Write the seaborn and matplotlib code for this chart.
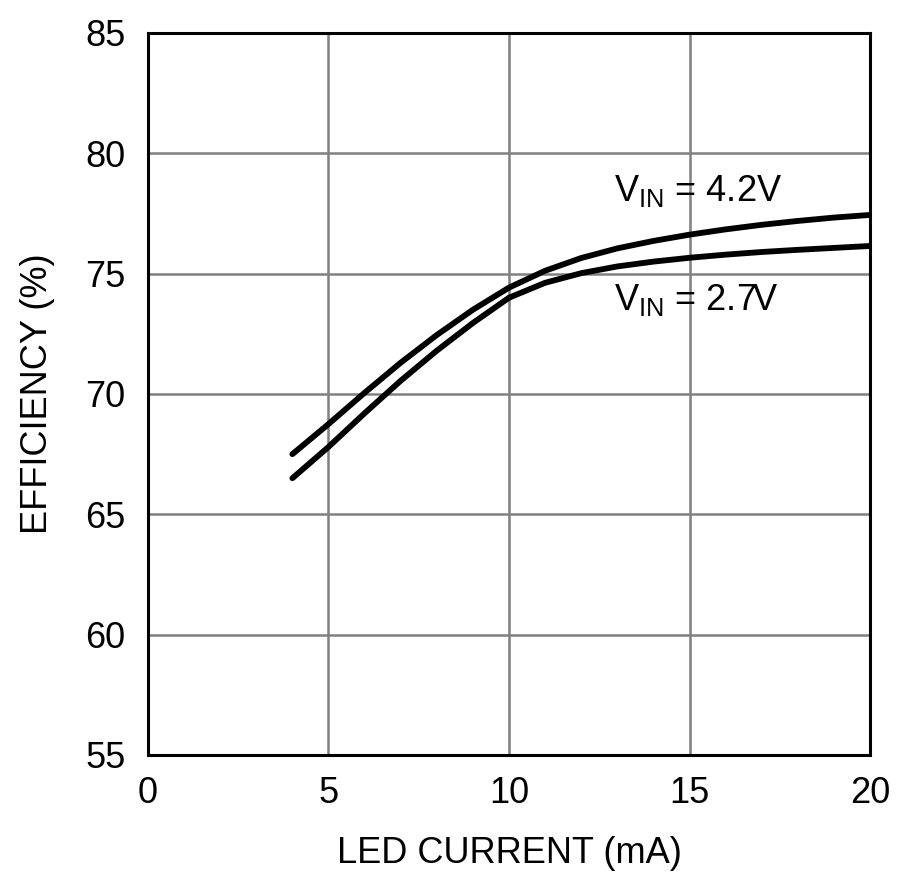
import numpy as np
import pandas as pd
import matplotlib
matplotlib.use("Agg")
import matplotlib.pyplot as plt
import seaborn as sns

# values
led_current = [4, 5, 6, 7, 8, 9, 10, 11, 12, 13, 14, 15, 16, 17, 18, 19, 20]
eff_42 = [67.5, 68.75, 70.05, 71.3, 72.45, 73.5, 74.42, 75.12, 75.65, 76.05,
          76.36, 76.62, 76.84, 77.03, 77.19, 77.33, 77.44]
eff_27 = [66.5, 67.8, 69.2, 70.55, 71.8, 72.95, 74.0, 74.62, 75.02, 75.3,
          75.5, 75.66, 75.79, 75.9, 75.99, 76.07, 76.15]
x_ticks = [0, 5, 10, 15, 20]
y_ticks = [55, 60, 65, 70, 75, 80, 85]

df = pd.DataFrame({
    "current": led_current * 2,
    "eff": eff_42 + eff_27,
    "vin": ["4.2V"] * len(eff_42) + ["2.7V"] * len(eff_27),
})

sns.set_style("white")
plt.rcParams["font.family"] = ["Liberation Sans", "DejaVu Sans"]
plt.rcParams["text.color"] = "black"
plt.rcParams["axes.labelcolor"] = "black"
plt.rcParams["xtick.color"] = "black"
plt.rcParams["ytick.color"] = "black"

fig = plt.figure(figsize=(9, 8.82), dpi=100)
ax = fig.add_axes([0.1644, 0.144, 0.8023, 0.8186])

sns.lineplot(data=df, x="current", y="eff", hue="vin", palette=["black", "black"],
             linewidth=4.2, legend=False, ax=ax)

ax.set_xlim(0, 20)
ax.set_ylim(55, 85)
ax.set_xticks(x_ticks)
ax.set_yticks(y_ticks)
ax.grid(True, color="#808080", linewidth=1.8)
ax.set_axisbelow(True)
for s in ax.spines.values():
    s.set_visible(True)
    s.set_color("black")
    s.set_linewidth(2.2)
ax.tick_params(axis="both", length=0, labelsize=26)
ax.tick_params(axis="x", pad=15)
ax.tick_params(axis="y", pad=16)

ax.set_xlabel("LED CURRENT (mA)", fontsize=26, labelpad=18)
ax.set_ylabel("EFFICIENCY (%)", fontsize=26, labelpad=22)

ax.text(12.9, 78.45, r"V$_{\mathregular{IN}}$ = 4.2V", fontsize=26, va="center")
ax.text(12.9, 73.9, r"V$_{\mathregular{IN}}$ = 2.7V", fontsize=26, va="center")

fig.savefig("out.png", dpi=100)
